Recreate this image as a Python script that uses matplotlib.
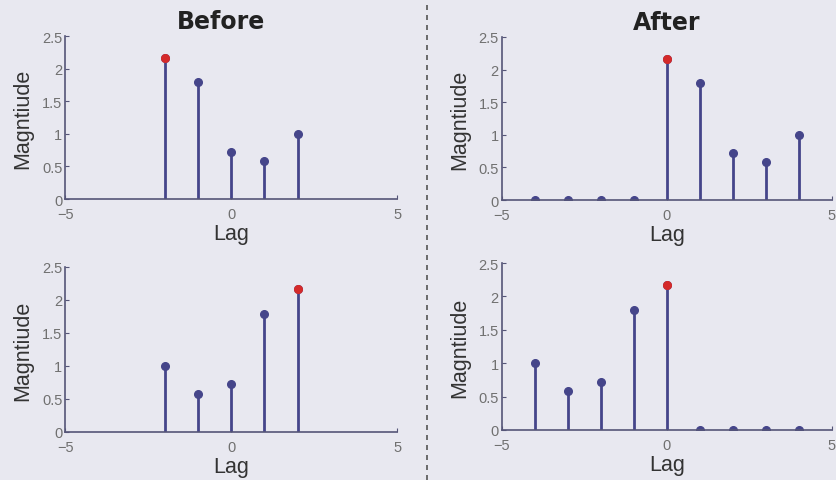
import numpy as np
import matplotlib.pyplot as plt
from matplotlib.lines import Line2D

plt.rcParams['font.family'] = ['Liberation Sans', 'DejaVu Sans']

# lags and magnitudes
lags_before = [-2, -1, 0, 1, 2]
mag_before_top = [2.17, 1.79, 0.72, 0.58, 1.0]
mag_before_bot = [1.0, 0.58, 0.72, 1.79, 2.17]

lags_after = [-4, -3, -2, -1, 0, 1, 2, 3, 4]
mag_after_top = [0, 0, 0, 0, 2.17, 1.79, 0.72, 0.58, 1.0]
mag_after_bot = [1.0, 0.58, 0.72, 1.79, 2.17, 0, 0, 0, 0]

peak_top_before = -2
peak_bot_before = 2
peak_after = 0

bg = '#e8e8f0'
stem_col = '#45458a'
peak_col = '#d42a2a'
tick_col = '#707070'

fig = plt.figure(figsize=(8.36, 4.81), dpi=100, facecolor=bg)

positions = [
    [0.078, 0.584, 0.397, 0.339],
    [0.600, 0.582, 0.395, 0.339],
    [0.078, 0.100, 0.397, 0.343],
    [0.600, 0.104, 0.395, 0.347],
]
data = [
    (lags_before, mag_before_top, peak_top_before),
    (lags_after, mag_after_top, peak_after),
    (lags_before, mag_before_bot, peak_bot_before),
    (lags_after, mag_after_bot, peak_after),
]

axes = []
for pos, (x, y, pk) in zip(positions, data):
    ax = fig.add_axes(pos)
    ax.set_facecolor(bg)
    ml, sl, bl = ax.stem(x, y, basefmt=' ')
    plt.setp(sl, color=stem_col, linewidth=2.0)
    plt.setp(ml, color=stem_col, markersize=5.5)
    i = x.index(pk)
    ax.plot(x[i], y[i], 'o', color=peak_col, markersize=5.5, zorder=4)
    ax.set_xlim(-5, 5)
    ax.set_ylim(0, 2.5)
    ax.set_xticks([-5, 0, 5])
    ax.set_xticklabels(['\u22125', '0', '5'])
    ax.set_yticks([0, 0.5, 1, 1.5, 2, 2.5])
    ax.set_yticklabels(['0', '0.5', '1', '1.5', '2', '2.5'])
    for s in ['top', 'right']:
        ax.spines[s].set_visible(False)
    for s in ['left', 'bottom']:
        ax.spines[s].set_color('#555577')
        ax.spines[s].set_linewidth(1.2)
    ax.tick_params(direction='in', length=3, colors='#555577', labelcolor=tick_col,
                   labelsize=10.5)
    ax.tick_params(axis='x', pad=6)
    ax.tick_params(axis='y', pad=2)
    ax.set_xlabel('Lag', fontsize=15.5, color='#333333', labelpad=1)
    ax.set_ylabel('Magntiude', fontsize=15.5, color='#333333', labelpad=6)
    axes.append(ax)

axes[0].set_title('Before', fontsize=17, fontweight='bold', color='#222222',
                  family='DejaVu Sans', pad=6, x=0.47)
axes[1].set_title('After', fontsize=17, fontweight='bold', color='#222222',
                  family='DejaVu Sans', pad=6)

fig.add_artist(Line2D([0.511, 0.511], [0, 1], transform=fig.transFigure,
                      color='#555555', linestyle=(0, (3, 3)), linewidth=1.2))

fig.savefig('out.png', dpi=100, facecolor=bg)
